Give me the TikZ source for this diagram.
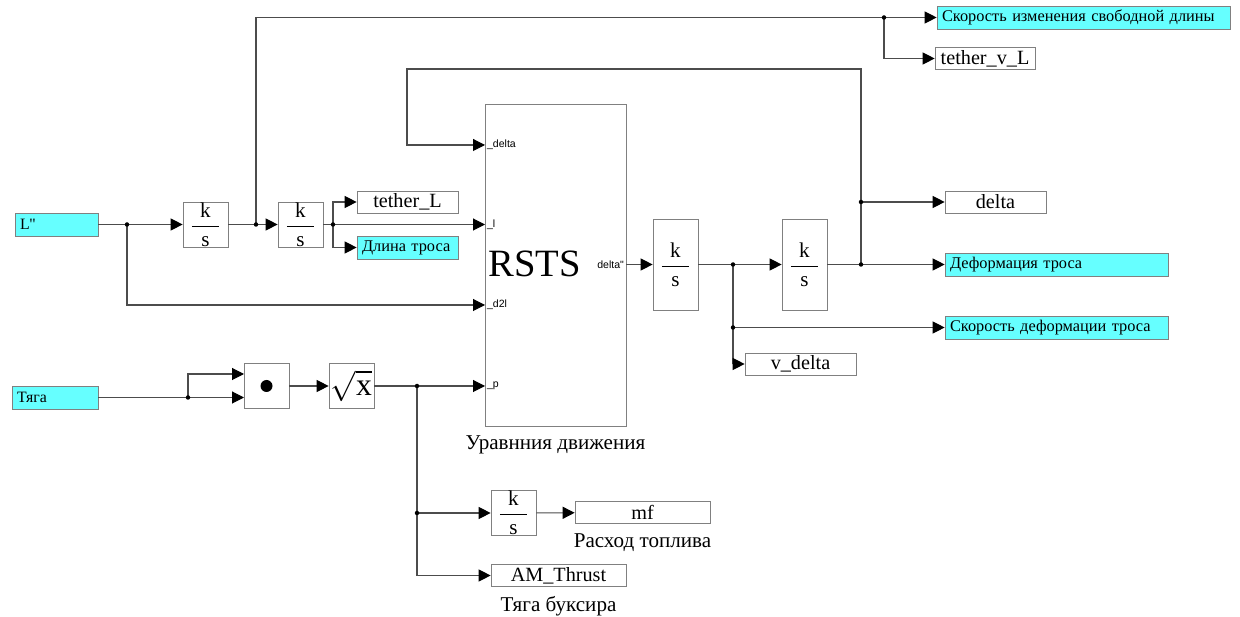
\documentclass[tikz,border=0pt]{standalone}
\usepackage{fontspec}
\setmainfont{Liberation Serif}
\setsansfont{Liberation Sans}
\usepackage{amsmath}
\usepackage{xcolor}
\usetikzlibrary{arrows.meta, positioning}
\definecolor{simcyan}{RGB}{102,255,255}
\definecolor{blkgray}{RGB}{128,128,128}
\tikzstyle{blk} = [draw=blkgray, fill=white, minimum width=0.9cm, minimum height=0.9cm, inner sep=0pt, font=\fontsize{12}{12}\selectfont]
\tikzstyle{outbox} = [draw=blkgray, fill=white, minimum height=0.44cm, inner sep=0pt, font=\fontsize{11.5}{12}\selectfont]
\tikzstyle{inbox} = [draw=blkgray, fill=simcyan, minimum height=0.46cm, inner xsep=0.1cm, inner ysep=0pt, align=left, font=\fontsize{9.3}{10}\selectfont]
\tikzstyle{port} = [inner sep=1pt, font=\sffamily\fontsize{6}{7}\selectfont]
\tikzstyle{caption} = [inner sep=0pt, font=\fontsize{12}{13}\selectfont]
\tikzstyle{wire} = [draw=black!70, line width=0.6pt]
\tikzstyle{arrow} = [wire, -{Triangle[length=0.24cm, width=0.24cm, color=black]}]
\newcommand{\ks}{$\dfrac{\makebox[1.3em]{k}}{\makebox[1.3em]{s}}$}

\begin{document}
\begin{tikzpicture}[x=0.02cm, y=-0.02cm]
    \useasboundingbox (0,0) rectangle (1240,617);

    % Входы
    \node[inbox, text width=1.46cm, font=\fontsize{9}{10}\selectfont] (Lpp) at (56.5,224.5) {L\textquotesingle\textquotesingle};
    \node[inbox, text width=1.52cm, font=\fontsize{9}{10}\selectfont] (thrust) at (55,397.5) {Тяга};

    % Интеграторы длины
    \node[blk] (int1) at (205.5,224.5) {\ks};
    \node[blk] (int2) at (300.5,224.5) {\ks};

    % Блок RSTS
    \node[draw=blkgray, fill=white, minimum width=2.82cm, minimum height=6.44cm, inner sep=0pt] (RSTS) at (555.5,265) {};
    \node[anchor=west, inner sep=0pt, font=\fontsize{22}{22}\selectfont] (rstslbl) at (488,264) {RSTS};
    \node[caption, below=0.18cm of RSTS] (eqlbl) {Уравнния движения};
    \coordinate (pdelta) at (485,145);
    \coordinate (pl) at (485,224.5);
    \coordinate (pd2l) at (485,305);
    \coordinate (pp) at (485,386);
    \coordinate (pout) at (626,264.5);
    \node[port, anchor=west] (lbdelta) at (pdelta) {\_delta};
    \node[port, anchor=west] (lbl) at (pl) {\_l};
    \node[port, anchor=west] (lbd2l) at (pd2l) {\_d2l};
    \node[port, anchor=west] (lbp) at (pp) {\_p};
    \node[port, anchor=east] (lbout) at (pout) {delta\textquotedbl};

    % Тяга: произведение и корень
    \node[blk] (mult) at (266.5,386) {};
    \fill (mult.center) circle[radius=0.12cm];
    \node[blk, font=\fontsize{18}{18}\selectfont] (sqrtb) at (351.5,386) {$\sqrt{\textrm{x}}$};
    \node[blk] (int3) at (513.5,513) {\ks};

    % Интеграторы деформации
    \node[blk, minimum height=1.82cm] (int4) at (675.5,264.5) {\ks};
    \node[blk, minimum height=1.82cm] (int5) at (804.5,264.5) {\ks};

    % Выходы
    \node[inbox, text width=5.66cm] (vfree) at (1083.5,17.5) {Скорость изменения свободной длины};
    \node[outbox, minimum width=2cm] (tvL) at (985,58.5) {tether\_v\_L};
    \node[outbox, minimum width=2.02cm] (tL) at (407.5,202) {tether\_L};
    \node[inbox, text width=1.82cm] (len) at (407.5,247.5) {Длина~троса};
    \node[outbox, minimum width=2.02cm] (delta) at (995.5,202) {delta};
    \node[inbox, text width=4.26cm] (def) at (1056.5,264.5) {Деформация троса};
    \node[inbox, text width=4.26cm] (vdef) at (1056.5,327.5) {Скорость деформации троса};
    \node[outbox, minimum width=2.22cm] (vdel) at (800.5,364) {v\_delta};
    \node[outbox, minimum width=2.7cm] (mf) at (642.5,512.5) {mf};
    \node[caption, below=0.18cm of mf] (mflbl) {Расход топлива};
    \node[outbox, minimum width=2.7cm] (AM) at (558.5,575.5) {AM\_Thrust};
    \node[caption, below=0.18cm of AM] (AMlbl) {Тяга буксира};

    % Узлы ветвления
    \coordinate (jL) at (127,224.5);
    \coordinate (j1) at (256,224.5);
    \coordinate (j2) at (333,224.5);
    \coordinate (jV) at (884,17.5);
    \coordinate (jT) at (188,397.5);
    \coordinate (jS) at (417,386);
    \coordinate (jS2) at (417,513);
    \coordinate (jD) at (733,264.5);
    \coordinate (jD2) at (733,327.5);
    \coordinate (jE) at (861,264.5);
    \coordinate (jE2) at (861,202);
    \coordinate (fb1) at (861,69);
    \coordinate (fb2) at (407,69);
    \coordinate (mi1) at (244,374);
    \coordinate (mi2) at (244,397.5);

    % Связи
    \draw[arrow] (Lpp.east) -- (int1.west);
    \draw[arrow] (jL) |- (pd2l);
    \draw[arrow] (int1.east) -- (int2.west);
    \draw[arrow] (j1) |- (vfree.west);
    \draw[arrow] (jV) |- (tvL.west);
    \draw[arrow] (int2.east) -- (pl);
    \draw[arrow] (j2) |- (tL.west);
    \draw[arrow] (j2) |- (len.west);
    \draw[arrow] (thrust.east) -- (mi2);
    \draw[arrow] (jT) |- (mi1);
    \draw[arrow] (mult) -- (sqrtb);
    \draw[arrow] (sqrtb.east) -- (pp);
    \draw[arrow] (jS) |- (AM.west);
    \draw[arrow] (jS2) -- (int3.west);
    \draw[arrow] (int3) -- (mf);
    \draw[arrow] (pout) -- (int4.west);
    \draw[arrow] (int4.east) -- (int5.west);
    \draw[arrow] (jD) |- (vdel.west);
    \draw[arrow] (jD2) -- (vdef.west);
    \draw[arrow] (int5.east) -- (def.west);
    \draw[arrow] (jE2) -- (delta.west);
    \draw[arrow] (jE) -- (fb1) -- (fb2) |- (pdelta);

    \foreach \j in {jL, j1, j2, jV, jT, jS, jS2, jD, jD2, jE, jE2}
        \fill (\j) circle[radius=0.045cm];
\end{tikzpicture}
\end{document}
